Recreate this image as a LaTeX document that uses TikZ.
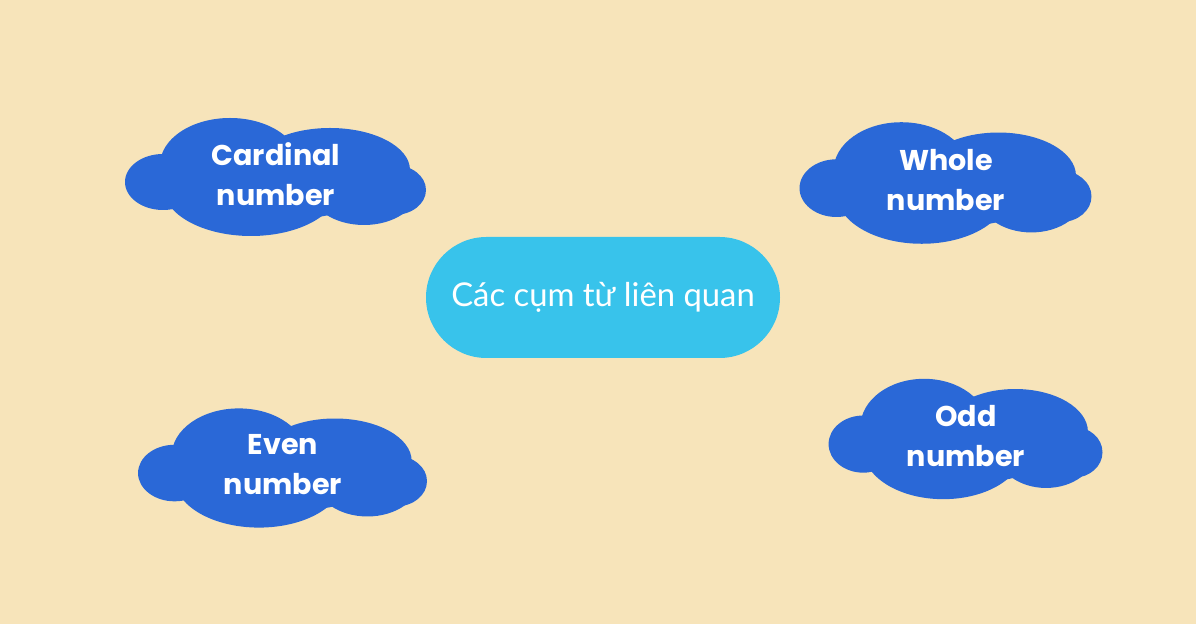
\documentclass[tikz,border=0pt]{standalone}
\usepackage{fontspec}
\usepackage{tikz}
\usetikzlibrary{positioning}
\newfontfamily\cloudfont{Poppins}
\newfontfamily\hubfont{Lato}
\definecolor{bgCream}{RGB}{247,228,186}
\definecolor{cloudBlue}{RGB}{42,104,215}
\definecolor{hubCyan}{RGB}{56,195,235}

\tikzset{
  puff/.pic={
    \fill[cloudBlue] (-113,5) ellipse [x radius=38, y radius=28];
    \fill[cloudBlue] (-46,-12) ellipse [x radius=70, y radius=47];
    \fill[cloudBlue] (54,-7) ellipse [x radius=80, y radius=42];
    \fill[cloudBlue] (118,13) ellipse [x radius=32, y radius=25];
    \fill[cloudBlue] (-25,10) ellipse [x radius=88, y radius=49];
    \fill[cloudBlue] (88,12) ellipse [x radius=54, y radius=36];
    \fill[cloudBlue] (0,3) ellipse [x radius=110, y radius=40];
  },
  cloudtext/.style={text=white, align=center, yshift=1.5pt,
    font=\cloudfont\bfseries\fontsize{14.3}{20}\selectfont},
  hub/.style={fill=hubCyan, text=white, rounded corners=30.25pt,
    minimum width=177pt, minimum height=60.5pt,
    font=\hubfont\fontsize{16.4}{19}\selectfont}
}

\begin{document}
\begin{tikzpicture}[x=0.5pt, y=-0.5pt]
  % Background
  \fill[bgCream] (0,0) rectangle (1196,624);

  % Central topic
  \node[hub] (hub) at (603,297.5) {Các cụm từ liên quan};

  % Clouds
  \pic at (276,177) {puff};
  \node[cloudtext] (cardinal) at (276,177) {Cardinal\\number};

  \pic[xscale=0.97, yscale=1.03] at (946,183) {puff};
  \node[cloudtext] (whole) at (946,183) {Whole\\number};

  \pic[xscale=0.96, yscale=1.01] at (283,468) {puff};
  \node[cloudtext] (even) at (283,468) {Even\\number};

  \pic[xscale=0.91, yscale=1.02] at (966,439) {puff};
  \node[cloudtext] (odd) at (966,439) {Odd\\number};
\end{tikzpicture}
\end{document}
